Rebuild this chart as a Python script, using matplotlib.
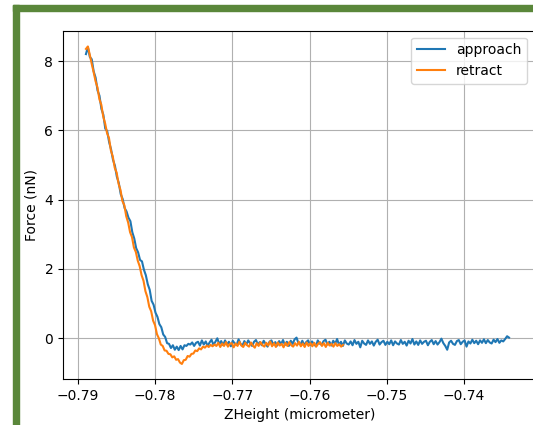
import numpy as np
import matplotlib
matplotlib.use('Agg')
import matplotlib.pyplot as plt
from matplotlib.patches import Rectangle

# z range of the two sweeps (micrometer)
z_approach_range = (-0.78893, -0.73418)
z_retract_range = (-0.78893, -0.75566)

# force values (nN)
f_approach = [
    8.20, 8.40, 8.12, 8.05, 7.70, 7.52, 7.15, 7.00, 6.62, 6.45,
    6.05, 5.98, 5.66, 5.45, 5.15, 4.98, 4.66, 4.48, 4.16, 4.02,
    3.76, 3.66, 3.48, 3.38, 3.06, 2.88, 2.60, 2.48, 2.26, 2.22,
    1.98, 1.82, 1.56, 1.40, 1.08, 0.97, 0.74, 0.62, 0.41, 0.32,
    0.11, 0.04, -0.14, -0.16, -0.28, -0.20, -0.33, -0.24, -0.34, -0.22,
    -0.32, -0.20, -0.22, -0.16, -0.18, -0.12, -0.22, -0.13,
    -0.10, -0.21, -0.06, -0.18, -0.09, -0.22, -0.12, -0.04, -0.19, -0.10,
    0.00, -0.17, -0.08, -0.20, -0.06, -0.18, -0.10, -0.23, -0.07, -0.15,
    -0.19, -0.03, -0.16, -0.21, -0.08, -0.18, -0.06, -0.15, -0.22, -0.10,
    -0.05, -0.18, -0.11, -0.20, -0.07, -0.16, -0.24, -0.10, -0.06, -0.18,
    -0.11, -0.21, -0.08, -0.17, -0.05, -0.19, -0.10, -0.22, -0.07, -0.16,
    -0.03, 0.02, -0.14, -0.18, -0.07, -0.20, -0.11, -0.06, -0.19, -0.09,
    -0.16, -0.23, -0.06, -0.15, -0.19, -0.08, -0.04, -0.18, -0.10, -0.21,
    -0.07, -0.16, -0.02, -0.19, -0.10, -0.22, -0.06, -0.15, -0.18, -0.09,
    -0.20, -0.05, -0.16, -0.10, -0.26, -0.07, -0.15, -0.19, -0.06, -0.16,
    -0.09, -0.21, -0.10, -0.04, -0.18, -0.11, -0.07, -0.19, -0.10, -0.17,
    -0.06, -0.20, -0.09, -0.15, -0.18, -0.05, -0.16, -0.10, -0.21, -0.07,
    -0.15, -0.02, -0.18, -0.09, -0.19, -0.06, -0.16, -0.10, -0.07, -0.20,
    -0.10, -0.05, -0.17, -0.08, -0.18, -0.11, -0.01, -0.14, -0.22, -0.33,
    -0.12, -0.07, -0.16, -0.19, -0.08, -0.05, -0.17, -0.10, -0.06, -0.24,
    -0.09, -0.15, -0.04, -0.14, -0.07, -0.17, -0.06, -0.13, -0.03, -0.14,
    -0.05, -0.12, -0.15, -0.04, -0.11, -0.02, -0.13, -0.06, -0.09, -0.02,
    0.06, 0.02,
]

f_retract = [
    8.35, 8.42, 8.18, 7.92, 7.68, 7.42, 7.24, 6.90, 6.74, 6.40,
    6.20, 5.92, 5.78, 5.42, 5.24, 4.92, 4.78, 4.46, 4.28, 3.96,
    3.84, 3.52, 3.34, 3.06, 2.92, 2.62, 2.49, 2.24, 2.08, 1.82,
    1.66, 1.36, 1.19, 0.91, 0.78, 0.51, 0.38, 0.12, 0.00, -0.18,
    -0.22, -0.35, -0.36, -0.45, -0.46, -0.55, -0.52, -0.62, -0.60, -0.70,
    -0.74, -0.63, -0.62, -0.51, -0.53, -0.45, -0.44, -0.35, -0.37, -0.29,
    -0.32, -0.24, -0.27, -0.21, -0.25, -0.19, -0.23, -0.18,
    -0.22, -0.13, -0.25, -0.15, -0.22, -0.11, -0.24, -0.16, -0.14, -0.26,
    -0.15, -0.22, -0.10, -0.21, -0.25, -0.13, -0.20, -0.24, -0.12, -0.21,
    -0.27, -0.14, -0.22, -0.11, -0.20, -0.24, -0.13, -0.21, -0.09, -0.23,
    -0.14, -0.25, -0.12, -0.21, -0.16, -0.26, -0.13, -0.22, -0.11, -0.20,
    -0.24, -0.14, -0.21, -0.10, -0.23, -0.15, -0.25, -0.12, -0.22, -0.14,
    -0.23, -0.13, -0.24, -0.16, -0.11, -0.22, -0.14, -0.25, -0.13, -0.21,
    -0.16, -0.24, -0.14, -0.22, -0.17, -0.24, -0.19,
]

z_approach = np.linspace(*z_approach_range, len(f_approach))
z_retract = np.linspace(*z_retract_range, len(f_retract))

fig = plt.figure(figsize=(5.33, 4.25), dpi=100)

# green frame of the screenshot
green = '#5a873a'
fig.add_artist(Rectangle((13 / 533, 0), 6 / 533, 420 / 425, transform=fig.transFigure,
                         color=green, zorder=0))
fig.add_artist(Rectangle((13 / 533, 414 / 425), 520 / 533, 6 / 425, transform=fig.transFigure,
                         color=green, zorder=0))

ax = fig.add_axes([63 / 533, 46 / 425, 473 / 533, 348.3 / 425])
ax.plot(z_approach, f_approach, label='approach')
ax.plot(z_retract, f_retract, label='retract')
ax.set_xlim(-0.7919, -0.73069)
ax.set_ylim(-1.174, 8.875)
ax.set_xticks([-0.79, -0.78, -0.77, -0.76, -0.75, -0.74])
ax.grid(True)
ax.set_xlabel('ZHeight (micrometer)')
ax.set_ylabel('Force (nN)')
ax.legend(loc='upper right', bbox_to_anchor=(0.995, 1.0))

fig.savefig('out.png', dpi=100)
